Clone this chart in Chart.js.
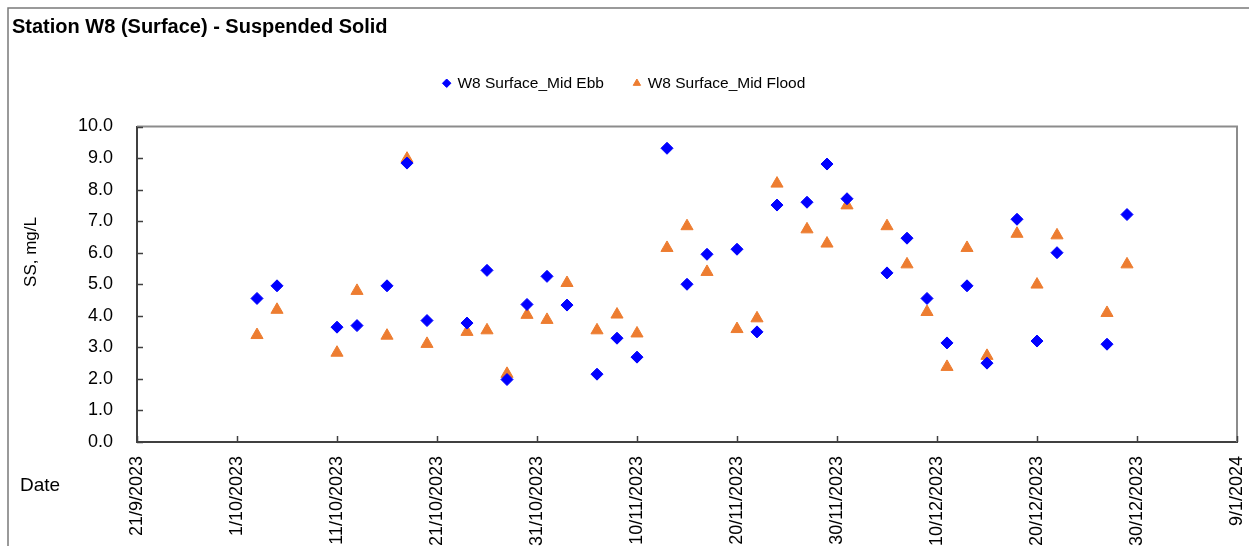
<!DOCTYPE html>
<html>
<head>
<meta charset="utf-8">
<title>Station W8 (Surface) - Suspended Solid</title>
<script src="https://cdn.jsdelivr.net/npm/chart.js@4.4.1/dist/chart.umd.min.js"></script>
<style>
    html, body { margin: 0; padding: 0; background: #fff; }
    #wrap { position: relative; width: 1249px; height: 546px; }
</style>
</head>
<body>
<div id="wrap"><canvas id="ssChart"></canvas></div>
<script>
// ===========================
// DATA
// ===========================

const sampleDates = [
    '3/10/2023', '5/10/2023', '11/10/2023', '13/10/2023', '16/10/2023', '18/10/2023',
    '20/10/2023', '24/10/2023', '26/10/2023', '28/10/2023', '30/10/2023', '1/11/2023',
    '3/11/2023', '6/11/2023', '8/11/2023', '10/11/2023', '13/11/2023', '15/11/2023',
    '17/11/2023', '20/11/2023', '22/11/2023', '24/11/2023', '27/11/2023', '29/11/2023',
    '1/12/2023', '5/12/2023', '7/12/2023', '9/12/2023', '11/12/2023', '13/12/2023',
    '15/12/2023', '18/12/2023', '20/12/2023', '22/12/2023', '27/12/2023', '29/12/2023'
];

const midEbb = [
    4.55, 4.95, 3.64, 3.69, 4.95, 8.84,
    3.85, 3.77, 5.44, 1.98, 4.36, 5.25,
    4.34, 2.15, 3.29, 2.69, 9.31, 5.00,
    5.95, 6.11, 3.49, 7.51, 7.60, 8.81,
    7.71, 5.36, 6.46, 4.55, 3.14, 4.95,
    2.50, 7.06, 3.20, 6.00, 3.10, 7.21
];

const midFlood = [
    3.39, 4.19, 2.83, 4.79, 3.37, 8.98,
    3.11, 3.49, 3.54, 2.16, 4.03, 3.87,
    5.04, 3.54, 4.04, 3.44, 6.15, 6.84,
    5.39, 3.58, 3.92, 8.19, 6.74, 6.29,
    7.50, 6.84, 5.63, 4.12, 2.38, 6.15,
    2.73, 6.60, 4.99, 6.55, 4.09, 5.63
];

// x axis runs 21/9/2023 .. 9/1/2024, one tick every 10 days
const axisStart = '21/9/2023';
const axisEnd = '9/1/2024';
const tickStepDays = 10;

const DAY_MS = 86400000;

function parseDmy(s) {
    const [d, m, y] = s.split('/').map(Number);
    return Date.UTC(y, m - 1, d);
}

const t0 = parseDmy(axisStart);

function dayOffset(s) {
    return Math.round((parseDmy(s) - t0) / DAY_MS);
}

function formatDmy(offset) {
    const d = new Date(t0 + offset * DAY_MS);
    return d.getUTCDate() + '/' + (d.getUTCMonth() + 1) + '/' + d.getUTCFullYear();
}

function toPoints(values) {
    return sampleDates.map((s, i) => ({ x: dayOffset(s), y: values[i] }));
}

// ===========================
// PLUGIN: chart frame, inner ticks, axis titles
// ===========================

const excelFrame = {
    id: 'excelFrame',
    beforeDraw(chart) {
        const ctx = chart.ctx;
        ctx.save();
        ctx.fillStyle = '#fff';
        ctx.fillRect(0, 0, chart.width, chart.height);
        // outer chart border (only top and left visible)
        ctx.strokeStyle = '#7a7a7a';
        ctx.lineWidth = 1.5;
        ctx.beginPath();
        ctx.moveTo(8, chart.height);
        ctx.lineTo(8, 8);
        ctx.lineTo(chart.width, 8);
        ctx.stroke();
        ctx.restore();
    },
    afterDraw(chart) {
        const ctx = chart.ctx;
        const a = chart.chartArea;
        const x = chart.scales.x;
        const y = chart.scales.y;
        ctx.save();

        // top and right border of plot area
        ctx.strokeStyle = '#8c8c8c';
        ctx.lineWidth = 2;
        ctx.beginPath();
        ctx.moveTo(a.left, a.top);
        ctx.lineTo(a.right, a.top);
        ctx.lineTo(a.right, a.bottom);
        ctx.stroke();

        // tick marks pointing inward
        ctx.strokeStyle = '#404040';
        ctx.lineWidth = 1.5;
        ctx.beginPath();
        y.ticks.forEach(t => {
            const py = Math.round(y.getPixelForValue(t.value)) + 0.5;
            ctx.moveTo(a.left, py);
            ctx.lineTo(a.left + 6, py);
        });
        x.ticks.forEach(t => {
            const px = Math.round(x.getPixelForValue(t.value)) + 0.5;
            ctx.moveTo(px, a.bottom);
            ctx.lineTo(px, a.bottom - 6);
        });
        ctx.stroke();

        // axis titles
        ctx.fillStyle = '#000';
        ctx.font = "17px 'Liberation Sans', Arial, sans-serif";
        ctx.textAlign = 'center';
        ctx.textBaseline = 'middle';
        ctx.save();
        ctx.translate(31, 252);
        ctx.rotate(-Math.PI / 2);
        ctx.fillText('SS, mg/L', 0, 0);
        ctx.restore();

        ctx.font = "19px 'Liberation Sans', Arial, sans-serif";
        ctx.textAlign = 'left';
        ctx.fillText('Date', 20, 486);
        ctx.restore();
    }
};

// ===========================
// CHART
// ===========================

Chart.defaults.font.family = "'Liberation Sans', Arial, sans-serif";
Chart.defaults.color = '#000';

const ctx = document.getElementById('ssChart');

new Chart(ctx, {
    type: 'scatter',
    data: {
        datasets: [{
            label: 'W8 Surface_Mid Ebb',
            data: toPoints(midEbb),
            pointStyle: 'rectRot',
            pointRadius: 6,
            pointHoverRadius: 6,
            backgroundColor: '#0000FF',
            borderColor: '#0000FF',
            borderWidth: 1
        }, {
            label: 'W8 Surface_Mid Flood',
            data: toPoints(midFlood),
            pointStyle: 'triangle',
            pointRadius: 7,
            pointHoverRadius: 7,
            backgroundColor: '#ED7D31',
            borderColor: '#ED7D31',
            borderWidth: 1
        }]
    },
    options: {
        responsive: true,
        maintainAspectRatio: false,
        animation: false,
        layout: {
            padding: { left: 12, right: 12, top: 0, bottom: 0 }
        },
        plugins: {
            title: {
                display: true,
                text: 'Station W8 (Surface) - Suspended Solid',
                align: 'start',
                font: { size: 20, weight: 'bold' },
                padding: { top: 15, bottom: 6.5 }
            },
            subtitle: {
                // empty spacer between legend and plot
                display: true,
                text: '',
                weight: 500,
                font: { size: 10 },
                padding: { top: 7, bottom: 6.5 }
            },
            legend: {
                display: true,
                position: 'top',
                labels: {
                    usePointStyle: true,
                    boxWidth: 6,
                    boxHeight: 6,
                    padding: 30,
                    font: { size: 15.5 }
                }
            },
            tooltip: { enabled: false }
        },
        scales: {
            x: {
                type: 'linear',
                min: 0,
                max: dayOffset(axisEnd),
                afterFit(scale) {
                    scale.height = 104;
                    scale.paddingLeft = 0;
                    scale.paddingRight = 0;
                },
                grid: { display: false, drawTicks: false },
                border: { display: true, color: '#404040', width: 2 },
                ticks: {
                    stepSize: tickStepDays,
                    minRotation: 90,
                    maxRotation: 90,
                    padding: 14,
                    font: { size: 18 },
                    callback: v => formatDmy(v)
                }
            },
            y: {
                min: 0,
                max: 10,
                afterFit(scale) { scale.width = 125; },
                grid: { display: false, drawTicks: false },
                border: { display: true, color: '#404040', width: 2 },
                ticks: {
                    stepSize: 1,
                    padding: 24,
                    font: { size: 18 },
                    callback: v => v.toFixed(1)
                }
            }
        }
    },
    plugins: [excelFrame]
});
</script>
</body>
</html>
